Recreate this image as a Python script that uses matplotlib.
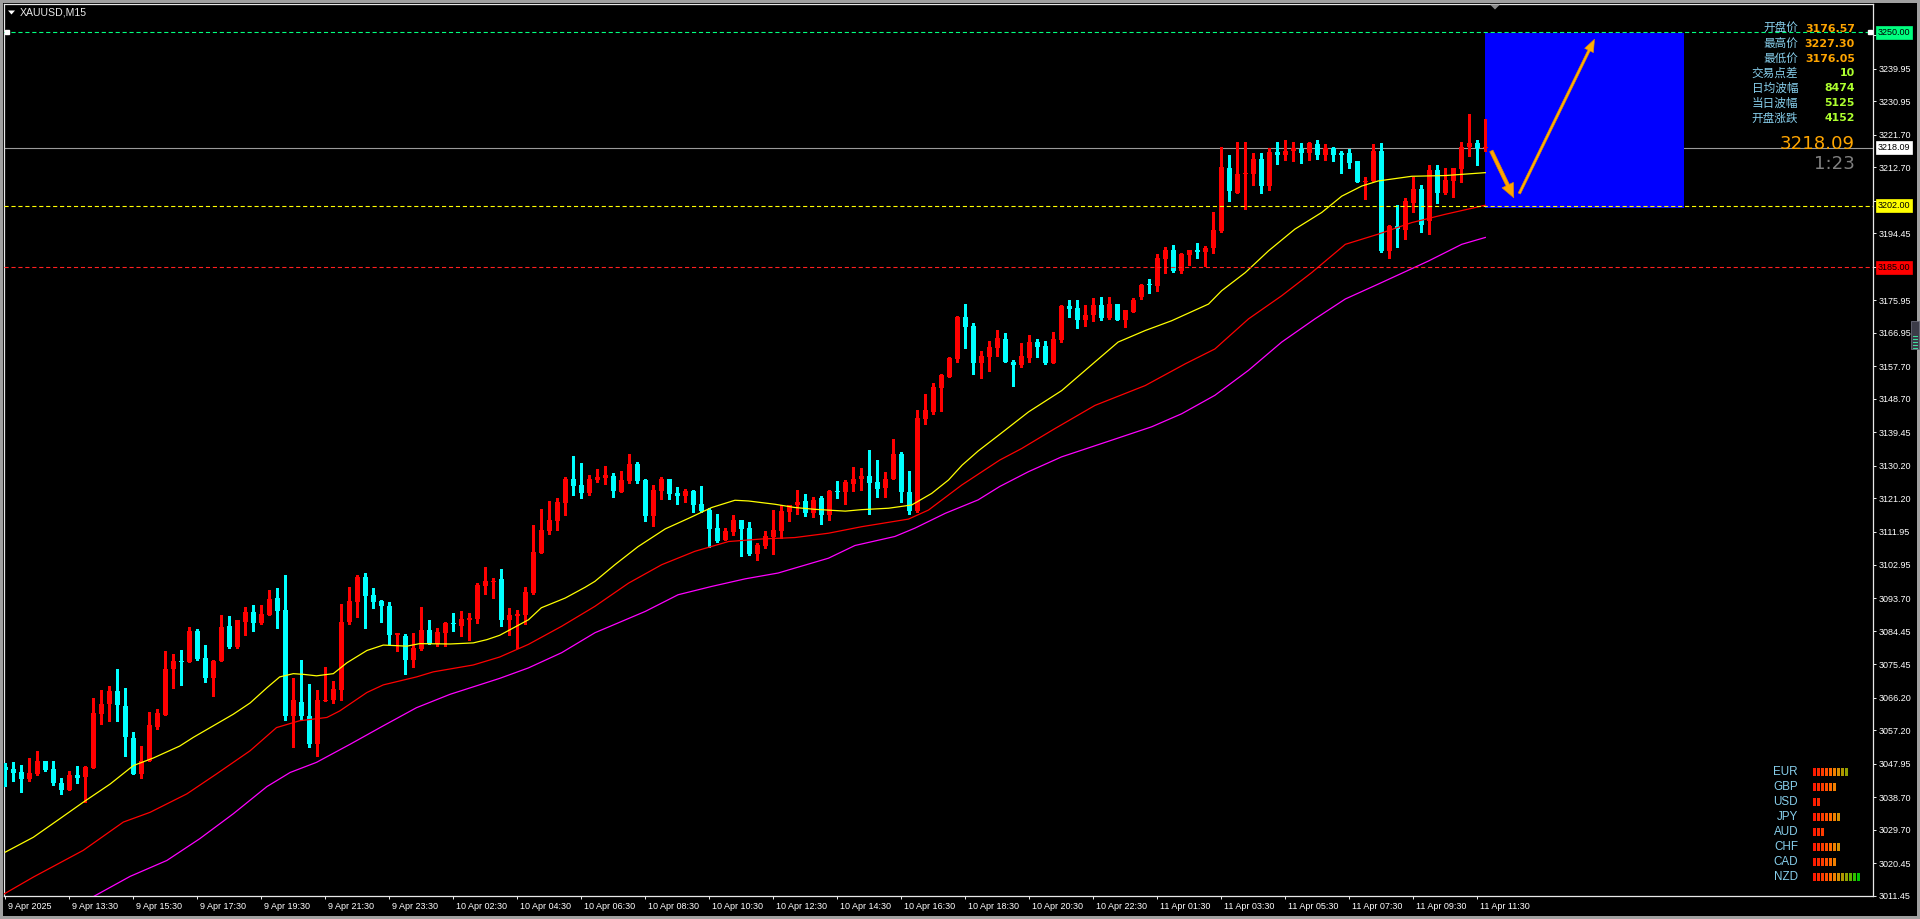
import matplotlib
matplotlib.use('Agg')
import matplotlib.pyplot as plt
from matplotlib.patches import Rectangle, FancyArrowPatch, Polygon
from matplotlib import transforms
from matplotlib import font_manager as fm
import numpy as np

# ---------------- data ----------------
symbol_title = 'XAUUSD,M15'

opens = [
    3047.1, 3046.4, 3045.5, 3043.7, 3045.1, 3048.6, 3046.4, 3042.5, 3040.7, 3044.8,
    3044.2, 3046.7, 3061.6, 3064.3, 3067.9, 3064.0, 3055.0, 3045.1, 3048.8, 3058.2,
    3061.5, 3074.0, 3076.4, 3076.1, 3084.6, 3077.2, 3071.5, 3076.2, 3086.0, 3080.2,
    3087.2, 3089.9, 3086.8, 3089.0, 3093.7, 3090.4, 3061.2, 3065.1, 3061.2, 3053.3,
    3065.2, 3065.4, 3068.4, 3087.1, 3092.7, 3099.5, 3094.5, 3092.9, 3091.5, 3083.5,
    3083.3, 3076.6, 3079.7, 3084.9, 3081.1, 3084.1, 3086.8, 3086.0, 3087.7, 3087.9,
    3097.0, 3098.2, 3098.9, 3087.5, 3088.6, 3089.1, 3095.1, 3106.2, 3112.2, 3115.0,
    3119.9, 3126.7, 3124.8, 3122.7, 3126.3, 3126.8, 3127.5, 3123.0, 3125.9, 3130.6,
    3126.2, 3116.4, 3123.2, 3126.5, 3122.6, 3121.9, 3123.2, 3119.6, 3118.0, 3113.0,
    3109.7, 3111.9, 3115.3, 3113.0, 3105.8, 3108.0, 3110.5, 3112.2, 3117.5, 3119.4,
    3120.5, 3117.2, 3121.2, 3116.5, 3123.2, 3123.0, 3125.2, 3126.5, 3127.4, 3125.7,
    3124.0, 3126.5, 3133.6, 3123.0, 3117.8, 3143.2, 3145.2, 3151.8, 3154.8, 3159.8,
    3171.3, 3168.9, 3158.5, 3160.4, 3162.8, 3165.3, 3159.0, 3158.2, 3160.0, 3164.5,
    3163.3, 3158.7, 3165.0, 3174.4, 3173.8, 3170.5, 3171.9, 3174.6, 3171.1, 3174.9,
    3170.5, 3172.7, 3176.8, 3180.4, 3179.9, 3187.3, 3189.8, 3184.0, 3188.4, 3189.8,
    3189.2, 3190.3, 3195.0, 3212.6, 3205.7, 3210.9, 3210.7, 3215.1, 3207.4, 3217.0,
    3216.2, 3217.3, 3217.6, 3216.5, 3219.2, 3216.2, 3218.1, 3216.5, 3216.5, 3214.3,
    3208.7, 3208.8, 3217.3, 3189.5, 3196.4, 3195.3, 3202.7, 3206.8, 3197.8, 3211.8,
    3205.7, 3208.8, 3212.3, 3218.4, 3219.5, 3217.9,
]
highs = [
    3048.0, 3048.3, 3047.7, 3049.4, 3051.3, 3048.8, 3048.6, 3043.9, 3046.0, 3047.2,
    3047.2, 3066.2, 3068.4, 3069.5, 3074.2, 3068.9, 3056.6, 3052.7, 3062.1, 3063.0,
    3079.1, 3078.1, 3079.4, 3085.7, 3085.2, 3080.8, 3076.6, 3089.0, 3088.8, 3087.7,
    3091.2, 3091.7, 3091.7, 3096.0, 3096.5, 3100.0, 3071.7, 3076.6, 3070.0, 3068.4,
    3074.7, 3070.9, 3092.1, 3096.7, 3100.0, 3100.6, 3096.5, 3093.2, 3092.6, 3084.1,
    3083.8, 3084.1, 3091.2, 3087.7, 3085.5, 3087.1, 3089.6, 3090.1, 3089.6, 3097.8,
    3102.2, 3099.1, 3101.7, 3091.0, 3090.5, 3096.7, 3113.8, 3118.2, 3120.4, 3121.2,
    3127.0, 3132.8, 3131.1, 3127.6, 3129.2, 3130.3, 3128.1, 3128.7, 3133.4, 3131.4,
    3126.5, 3124.9, 3127.0, 3126.5, 3124.3, 3123.7, 3123.5, 3124.6, 3118.6, 3116.8,
    3113.1, 3116.6, 3115.3, 3114.6, 3108.9, 3112.1, 3117.9, 3119.3, 3119.5, 3123.5,
    3122.4, 3121.6, 3121.9, 3123.5, 3126.0, 3126.3, 3129.8, 3129.5, 3134.7, 3131.9,
    3128.5, 3137.5, 3133.9, 3128.7, 3145.7, 3150.1, 3153.1, 3155.6, 3160.3, 3171.5,
    3175.0, 3169.7, 3162.0, 3164.7, 3167.8, 3166.9, 3159.5, 3164.2, 3166.4, 3165.3,
    3164.7, 3167.2, 3174.6, 3176.0, 3176.0, 3174.6, 3176.6, 3176.8, 3176.8, 3174.9,
    3173.3, 3176.6, 3180.5, 3181.8, 3188.7, 3190.6, 3191.2, 3188.9, 3189.8, 3191.7,
    3190.9, 3200.2, 3218.4, 3216.2, 3219.8, 3219.8, 3216.5, 3216.5, 3217.9, 3219.8,
    3220.1, 3219.8, 3219.5, 3219.8, 3220.3, 3219.2, 3218.4, 3217.3, 3217.6, 3214.3,
    3209.9, 3219.0, 3219.5, 3196.7, 3202.2, 3204.1, 3209.9, 3207.7, 3213.2, 3213.2,
    3212.6, 3212.6, 3219.8, 3227.3, 3220.3, 3226.0,
]
lows = [
    3041.8, 3043.2, 3040.1, 3043.2, 3044.8, 3045.8, 3042.1, 3039.6, 3040.7, 3042.6,
    3037.3, 3046.7, 3058.8, 3059.7, 3059.7, 3050.0, 3045.1, 3044.0, 3048.8, 3057.6,
    3061.5, 3068.8, 3069.6, 3075.9, 3076.5, 3070.4, 3066.6, 3076.2, 3080.0, 3079.8,
    3083.5, 3084.6, 3086.6, 3089.0, 3085.5, 3060.0, 3052.5, 3060.1, 3052.6, 3050.0,
    3065.2, 3064.8, 3065.5, 3086.4, 3088.5, 3085.5, 3091.0, 3087.1, 3081.1, 3079.0,
    3072.6, 3074.7, 3079.4, 3080.9, 3080.5, 3080.5, 3084.6, 3083.3, 3082.2, 3086.8,
    3094.8, 3093.7, 3086.1, 3083.6, 3079.8, 3086.4, 3094.9, 3106.2, 3111.4, 3112.5,
    3116.5, 3122.2, 3121.3, 3122.2, 3125.7, 3125.2, 3121.6, 3123.0, 3125.4, 3125.6,
    3115.0, 3113.6, 3121.0, 3121.0, 3119.7, 3120.2, 3117.5, 3117.5, 3107.8, 3109.2,
    3109.7, 3111.1, 3105.4, 3105.6, 3104.2, 3107.6, 3105.9, 3110.2, 3115.0, 3116.9,
    3116.4, 3116.1, 3114.2, 3115.3, 3121.2, 3119.7, 3123.2, 3123.5, 3116.9, 3121.6,
    3121.6, 3126.5, 3120.2, 3116.9, 3117.5, 3141.9, 3144.6, 3145.4, 3154.8, 3159.0,
    3162.8, 3155.5, 3154.5, 3156.5, 3160.6, 3158.8, 3152.2, 3157.4, 3158.8, 3160.3,
    3158.4, 3158.7, 3164.4, 3171.3, 3168.3, 3168.9, 3170.2, 3170.5, 3170.8, 3170.5,
    3168.7, 3172.7, 3176.3, 3177.9, 3178.5, 3183.4, 3183.7, 3183.4, 3185.7, 3187.6,
    3185.4, 3189.0, 3194.7, 3203.5, 3205.5, 3201.2, 3207.9, 3205.7, 3206.3, 3213.7,
    3214.8, 3214.5, 3214.0, 3214.8, 3215.1, 3214.8, 3214.5, 3211.0, 3212.4, 3208.5,
    3204.0, 3208.8, 3189.2, 3187.6, 3190.6, 3192.8, 3200.2, 3194.7, 3194.2, 3202.7,
    3205.2, 3204.6, 3208.5, 3215.9, 3213.4, 3217.3,
]
closes = [
    3046.2, 3045.4, 3043.7, 3045.3, 3048.6, 3046.2, 3042.6, 3040.7, 3044.8, 3044.0,
    3046.9, 3061.8, 3064.3, 3067.9, 3064.1, 3055.3, 3045.1, 3048.8, 3058.5, 3061.8,
    3074.2, 3076.4, 3075.9, 3084.6, 3076.9, 3071.5, 3076.4, 3085.7, 3080.3, 3087.7,
    3089.9, 3086.9, 3089.3, 3093.4, 3090.1, 3061.0, 3065.4, 3061.0, 3053.3, 3065.4,
    3065.6, 3068.7, 3087.1, 3092.9, 3099.5, 3094.3, 3092.6, 3091.5, 3083.5, 3084.1,
    3076.6, 3079.9, 3084.9, 3081.1, 3084.4, 3086.8, 3086.4, 3087.9, 3088.2, 3097.3,
    3098.4, 3098.5, 3087.5, 3089.1, 3089.4, 3095.4, 3106.4, 3112.4, 3115.2, 3120.1,
    3126.7, 3124.6, 3122.7, 3126.5, 3127.0, 3127.8, 3123.3, 3126.2, 3130.6, 3125.9,
    3116.4, 3123.4, 3126.5, 3122.4, 3122.0, 3123.2, 3119.4, 3117.7, 3112.8, 3109.4,
    3112.1, 3115.3, 3112.8, 3105.8, 3108.3, 3110.8, 3112.4, 3117.6, 3119.5, 3120.1,
    3117.2, 3120.7, 3116.6, 3123.2, 3122.9, 3125.7, 3126.7, 3127.4, 3125.5, 3123.8,
    3126.5, 3133.6, 3123.0, 3117.8, 3143.5, 3145.5, 3152.1, 3155.4, 3160.0, 3171.3,
    3168.6, 3158.5, 3160.6, 3163.1, 3165.6, 3159.0, 3158.2, 3160.5, 3164.5, 3163.1,
    3158.7, 3165.3, 3174.4, 3173.5, 3170.5, 3171.9, 3174.6, 3171.1, 3174.9, 3170.5,
    3173.3, 3176.0, 3180.2, 3180.1, 3187.6, 3189.8, 3184.0, 3188.7, 3189.8, 3189.3,
    3190.3, 3195.3, 3212.9, 3206.0, 3210.7, 3211.2, 3215.1, 3207.4, 3216.8, 3216.2,
    3217.3, 3217.9, 3216.5, 3219.5, 3216.2, 3218.1, 3216.2, 3216.1, 3214.0, 3208.5,
    3209.0, 3217.3, 3189.5, 3196.4, 3195.6, 3203.3, 3206.6, 3196.7, 3211.8, 3205.7,
    3209.3, 3212.6, 3218.4, 3219.5, 3217.9, 3218.09,
]

# time axis labels (every 8 bars of M15)
x_label_bars = [0, 8, 16, 24, 32, 40, 48, 56, 64, 72, 80, 88, 96, 104, 112, 120,
                128, 136, 144, 152, 160, 168, 176, 184]
x_labels = ['9 Apr 2025', '9 Apr 13:30', '9 Apr 15:30', '9 Apr 17:30', '9 Apr 19:30',
            '9 Apr 21:30', '9 Apr 23:30', '10 Apr 02:30', '10 Apr 04:30', '10 Apr 06:30',
            '10 Apr 08:30', '10 Apr 10:30', '10 Apr 12:30', '10 Apr 14:30', '10 Apr 16:30',
            '10 Apr 18:30', '10 Apr 20:30', '10 Apr 22:30', '11 Apr 01:30', '11 Apr 03:30',
            '11 Apr 05:30', '11 Apr 07:30', '11 Apr 09:30', '11 Apr 11:30']

y_ticks = [3249.20, 3239.95, 3230.95, 3221.70, 3212.70, 3203.45, 3194.45, 3185.20,
           3175.95, 3166.95, 3157.70, 3148.70, 3139.45, 3130.20, 3121.20, 3111.95,
           3102.95, 3093.70, 3084.45, 3075.45, 3066.20, 3057.20, 3047.95, 3038.70,
           3029.70, 3020.45, 3011.45]
# tick labels that sit under the coloured level boxes in the reference
y_ticks_covered = [3249.20, 3203.45, 3185.20]

# moving averages (bar index, price)
ma_fast_x = [0, 3.5, 6.8, 9.75, 13.1, 16.0, 18.5, 21.8, 23.5, 26.0, 28.5, 30.6, 32.7, 34.3,
             36.0, 37.3, 38.9, 41.0, 42.7, 45.2, 47.25, 50.2, 51.8, 55.6, 58.5, 60.2, 61.8,
             65.4, 67.0, 70.0, 72.5, 73.7, 76.2, 79.1, 82.5, 85.4, 88.3, 91.2, 92.9, 96.2,
             98.7, 101.2, 105.0, 107.0, 110.4, 113.3, 115.8, 117.9, 119.6, 121.6, 124.3,
             127.9, 132.05, 136.2, 139.1, 142.5, 145.8, 150.4, 152.05, 155.0, 157.9, 161.2,
             164.55, 167.05, 169.55, 171.6, 175.8, 180.0, 185.0]
ma_fast_y = [3023.5, 3027.6, 3032.7, 3037.3, 3042.3, 3047.4, 3049.5, 3052.8, 3055.2, 3058.4,
             3061.6, 3064.7, 3068.9, 3071.9, 3072.8, 3072.6, 3072.2, 3072.8, 3075.8, 3079.2,
             3080.7, 3080.4, 3081.1, 3081.0, 3081.3, 3082.2, 3083.4, 3087.7, 3091.0, 3093.7,
             3096.7, 3098.3, 3102.9, 3107.9, 3112.8, 3115.7, 3118.7, 3120.7, 3120.5, 3119.6,
             3118.7, 3118.2, 3117.7, 3118.1, 3118.5, 3119.4, 3122.6, 3126.3, 3130.4, 3134.3,
             3138.9, 3145.1, 3151.0, 3158.9, 3164.4, 3167.6, 3170.3, 3174.9, 3178.6, 3183.6,
             3189.6, 3195.6, 3200.2, 3204.7, 3207.5, 3208.9, 3210.2, 3210.4, 3211.2]

ma_mid_x = [-0.5, 3.5, 9.75, 14.75, 18.1, 22.7, 26.4, 30.6, 33.9, 36.8, 40.2, 41.8, 45.2,
            47.25, 51.4, 53.5, 58.5, 61.8, 65.4, 69.55, 73.7, 77.9, 82.05, 86.2, 90.4, 94.55,
            98.7, 102.9, 107.05, 112.9, 115.4, 119.55, 124.3, 127.05, 131.2, 136.2, 142.5,
            147.5, 151.2, 155.4, 159.55, 163.3, 167.5, 171.6, 175.8, 180.0, 185.0]
ma_mid_y = [3011.5, 3016.6, 3024.0, 3031.8, 3034.5, 3039.6, 3045.1, 3051.5, 3057.9, 3059.8,
            3060.7, 3062.5, 3067.6, 3069.7, 3071.9, 3073.3, 3075.2, 3077.4, 3080.9, 3085.9,
            3091.4, 3097.8, 3102.9, 3106.6, 3109.3, 3110.0, 3110.4, 3111.6, 3113.4, 3115.5,
            3118.0, 3124.9, 3131.8, 3135.0, 3140.5, 3146.9, 3152.4, 3158.4, 3162.5, 3170.8,
            3177.2, 3183.6, 3191.4, 3194.2, 3197.4, 3199.7, 3202.2]

ma_slow_x = [11.0, 15.6, 20.2, 24.3, 28.5, 32.7, 35.6, 38.9, 43.1, 47.25, 51.4, 55.6, 61.8,
             65.4, 69.55, 73.7, 80.0, 84.1, 88.3, 92.5, 96.6, 102.9, 106.2, 111.2, 113.7,
             117.5, 121.6, 124.3, 127.9, 132.05, 138.3, 143.3, 147.05, 151.2, 155.4, 159.55,
             163.7, 167.5, 171.6, 177.9, 182.05, 185.0]
ma_slow_y = [3011.2, 3016.8, 3021.2, 3027.2, 3034.1, 3041.6, 3045.5, 3048.3, 3053.3, 3058.4,
             3063.4, 3067.1, 3071.5, 3074.4, 3078.6, 3084.1, 3090.0, 3094.6, 3096.9, 3099.0,
             3100.6, 3104.7, 3108.2, 3110.7, 3113.0, 3117.1, 3120.8, 3124.5, 3128.6, 3132.7,
             3137.3, 3141.0, 3144.6, 3149.7, 3156.6, 3164.4, 3170.8, 3176.3, 3180.4, 3186.8,
             3191.4, 3193.3]

# horizontal levels
level_green = 3250.00
level_yellow = 3202.00
level_red = 3185.00
current_price = 3218.09

# target zone (bar from, bar to, price low, price high) and arrows
zone = [185.0, 209.85, 3201.4, 3249.8]
arrow_down = [(185.6, 3217.9), (188.7, 3203.6)]
arrow_up = [(189.1, 3204.75), (198.8, 3248.75)]

# info panel
info_labels = ['开盘价', '最高价', '最低价', '交易点差', '日均波幅', '当日波幅', '开盘涨跌']
info_values = ['3176.57', '3227.30', '3176.05', '10', '8474', '5125', '4152']
big_price = '3218.09'
timer_text = '1:23'

# currency strength
cur_names = ['EUR', 'GBP', 'USD', 'JPY', 'AUD', 'CHF', 'CAD', 'NZD']
cur_strength = [9, 6, 2, 7, 3, 7, 6, 12]

# ---------------- styling / layout ----------------
W, H = 1920, 919
avail = {f.name for f in fm.fontManager.ttflist}
NARROW = 'Liberation Sans Narrow' if 'Liberation Sans Narrow' in avail else 'Liberation Sans'
tick_fs = 7.6 if NARROW == 'Liberation Sans Narrow' else 6.5
plt.rcParams['font.family'] = [NARROW, 'DejaVu Sans']
plt.rcParams['lines.scale_dashes'] = False

fig = plt.figure(figsize=(W / 100, H / 100), dpi=100)
fig.patch.set_facecolor('#A0A0A0')
fig.add_artist(Rectangle((3 / W, 3 / H), (W - 6) / W, (H - 6) / H,
                         transform=fig.transFigure, fc='black', ec='none', zorder=-10))

def fx(px):
    return px / W

def fy(py):
    return 1 - py / H

ax_left, ax_right, ax_top, ax_bottom = 4, 1873, 4, 896
ax = fig.add_axes([fx(ax_left), fy(ax_bottom), (ax_right - ax_left) / W, (ax_bottom - ax_top) / H])
ax.set_facecolor('black')
ax.set_xlim(-0.1625, 233.46)
ax.set_ylim(3011.38, 3257.79)
for s in ax.spines.values():
    s.set_color('#E8E8E8')
    s.set_linewidth(0.9)

# level lines (under candles)
ax.axhline(current_price, color='#9A9A9A', lw=0.8, zorder=1)
ax.axhline(level_green, color='#00FF7F', lw=0.8, ls=(0, (3, 2)), zorder=6)
ax.axhline(level_yellow, color='#FFFF00', lw=0.8, ls=(0, (3, 2)), zorder=6)
ax.axhline(level_red, color='#FF2020', lw=0.8, ls=(0, (3, 2)), zorder=6)
ax.plot([0.2, 233.1], [level_green, level_green], ls='none', marker='s', ms=3,
        mfc='white', mec='white', zorder=7, clip_on=False)

# target zone
ax.add_patch(Rectangle((zone[0], zone[2]), zone[1] - zone[0], zone[3] - zone[2],
                       fc='#0000FF', ec='none', zorder=2))

# candles
o = np.array(opens); h = np.array(highs); l = np.array(lows); c = np.array(closes)
xb = np.arange(len(o))
cols = np.where(c >= o, '#FF0000', '#00FFFF')
ax.vlines(xb, l, h, colors=cols, linewidth=0.75, zorder=4, antialiased=False)
body_bot = np.minimum(o, c)
body_h = np.maximum(np.abs(c - o), 0.3)
ax.bar(xb, body_h, bottom=body_bot, width=0.62, color=cols, linewidth=0, zorder=5,
       antialiased=False)

# moving averages
ax.plot(ma_fast_x, ma_fast_y, color='#FFFF00', lw=0.9, zorder=5.5)
ax.plot(ma_mid_x, ma_mid_y, color='#FF0000', lw=0.9, zorder=5.5)
ax.plot(ma_slow_x, ma_slow_y, color='#FF00FF', lw=0.9, zorder=5.5)

# arrows
ax.add_patch(FancyArrowPatch(arrow_down[0], arrow_down[1], mutation_scale=1,
                             arrowstyle='simple,head_length=10,head_width=9,tail_width=2.6',
                             fc='#FFA500', ec='#E08A00', lw=0.5, zorder=8))
ax.add_patch(FancyArrowPatch(arrow_up[0], arrow_up[1], mutation_scale=1,
                             arrowstyle='simple,head_length=9,head_width=7,tail_width=1.8',
                             fc='#FFB000', ec='#E09000', lw=0.4, zorder=8))

# axes ticks
ax.set_xticks(x_label_bars)
ax.set_xticklabels([''] * len(x_label_bars))
ax.tick_params(axis='x', direction='out', length=2.2, width=0.72, colors='#E8E8E8')
ax.yaxis.tick_right()
ax.set_yticks(y_ticks)
ax.set_yticklabels(['' if v in y_ticks_covered else '%.2f' % v for v in y_ticks])
ax.tick_params(axis='y', direction='out', length=2.2, width=0.72, colors='#E8E8E8',
               labelsize=tick_fs, pad=1.6, labelcolor='white')

xtrans = transforms.blended_transform_factory(ax.transData, fig.transFigure)
for b, t in zip(x_label_bars, x_labels):
    ax.text(b + 0.3, fy(906.5), t, transform=xtrans, ha='left', va='center',
            fontsize=tick_fs, color='white', clip_on=False)

# coloured price labels on the right axis
ytrans = transforms.blended_transform_factory(ax.transAxes, ax.transData)
for val, col in [(level_green, '#00FF7F'), (current_price, '#FFFFFF'),
                 (level_yellow, '#FFFF00'), (level_red, '#FF0000')]:
    ax.text(1.0 + 4.5 / (ax_right - ax_left), val, '%.2f' % val, transform=ytrans,
            ha='left', va='center', fontsize=tick_fs, color='black', zorder=30,
            clip_on=False,
            bbox=dict(boxstyle='square,pad=0.22', fc=col, ec=col, lw=0.5))

# title
fig.add_artist(Polygon([(fx(8), fy(10.5)), (fx(15), fy(10.5)), (fx(11.5), fy(14.5))],
                       closed=True, transform=fig.transFigure, fc='white', ec='none'))
fig.text(fx(20), fy(12.8), symbol_title, ha='left', va='center', fontsize=7.6,
         color='#E8E8E8', family=['Liberation Sans', 'DejaVu Sans'])

# shift marker
fig.add_artist(Polygon([(fx(1490), fy(4.5)), (fx(1500), fy(4.5)), (fx(1495), fy(9.5))],
                       closed=True, transform=fig.transFigure, fc='#8A8A8A', ec='none'))

# scroll widget on the right edge
fig.add_artist(Rectangle((fx(1911), fy(349)), 8 / W, 28 / H, transform=fig.transFigure,
                         fc='#3C3C48', ec='#6A6A78', lw=0.6, zorder=5))
for i in range(5):
    yy = 336 + 3 * i
    fig.add_artist(plt.Line2D([fx(1913), fx(1917)], [fy(yy), fy(yy)], transform=fig.transFigure,
                              color='#40E0A0', lw=0.7, zorder=6))

# info panel
cjk = ['Noto Sans CJK SC', 'DejaVu Sans']
for i, (lab, val) in enumerate(zip(info_labels, info_values)):
    yy = 28.7 + 14.9 * i
    fig.text(fx(1798), fy(yy), lab, ha='right', va='center', fontsize=8.4,
             color='#87CEEB', family=cjk)
    vcol = '#FFA500' if i < 3 else '#ADFF2F'
    fig.text(fx(1855), fy(yy), val, ha='right', va='center', fontsize=7.9,
             color=vcol, family=['DejaVu Sans'], fontweight='bold')

fig.text(fx(1855), fy(144), big_price, ha='right', va='center', fontsize=13.1,
         color='#FFA500', family=['DejaVu Sans'])
fig.text(fx(1855), fy(164), timer_text, ha='right', va='center', fontsize=13.1,
         color='#808080', family=['DejaVu Sans'])

# currency strength panel
grad = ['#FF1A00', '#FF2A00', '#FF3C00', '#FF5000', '#FF6A00', '#F08000',
        '#D89000', '#B09800', '#90A000', '#60B000', '#30C000', '#00C800']
for i, (nm, n) in enumerate(zip(cur_names, cur_strength)):
    yy = 771.7 + 15 * i
    fig.text(fx(1798), fy(yy), nm, ha='right', va='center', fontsize=8.4,
             color='#87CEEB', family=['Liberation Sans', 'DejaVu Sans'])
    for j in range(n):
        fig.add_artist(Rectangle((fx(1813 + 4 * j), fy(yy + 3.8)), 2.6 / W, 7.6 / H,
                                 transform=fig.transFigure, fc=grad[j], ec='none', zorder=5))

fig.savefig('out.png', dpi=100, facecolor=fig.get_facecolor())
